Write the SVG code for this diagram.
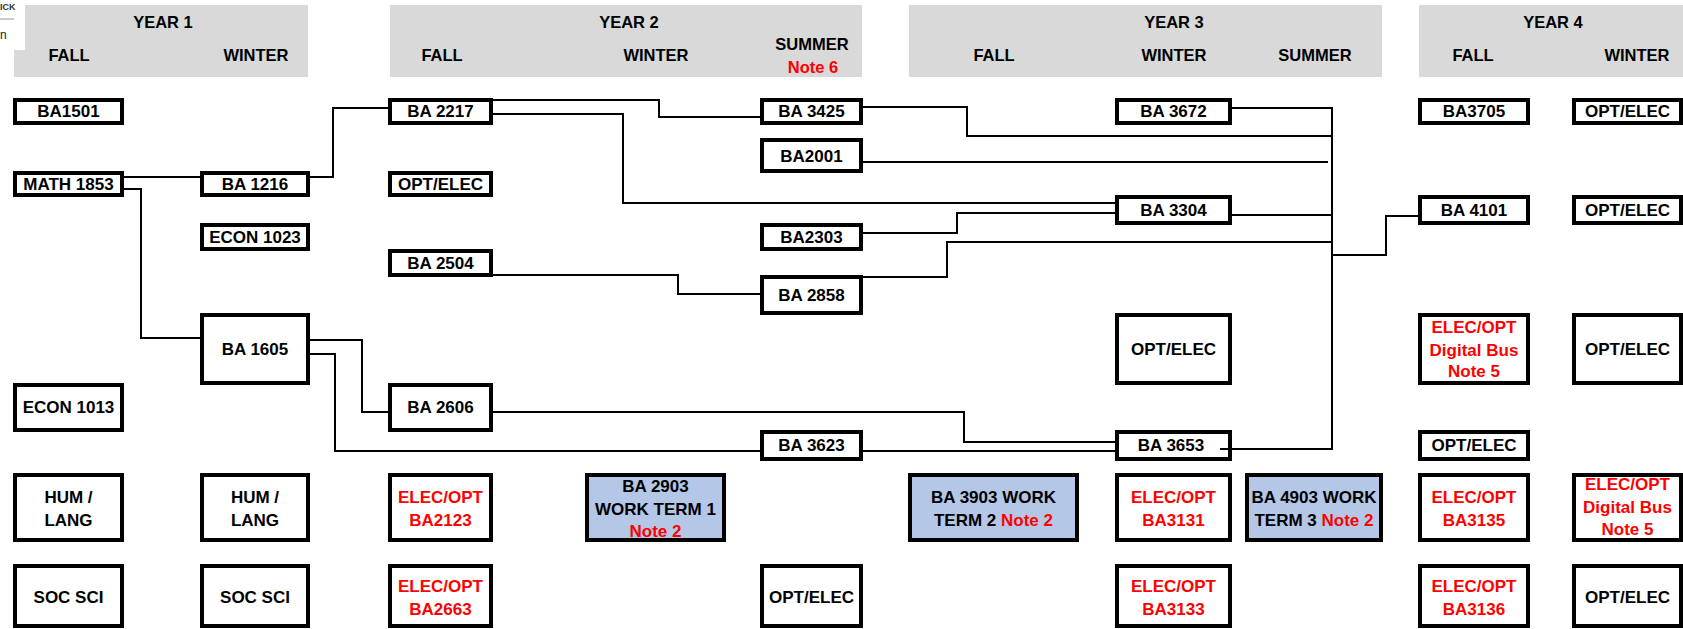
<svg xmlns="http://www.w3.org/2000/svg" width="1683" height="629" viewBox="0 0 1683 629">
<style>
.hdr{fill:#d9d9d9}
.box{fill:#fff;stroke:#000;stroke-width:4}
.wt{fill:#b4c7e7;stroke:#000;stroke-width:4}
.t{font-family:"Liberation Sans",Arial,sans-serif;font-weight:bold;font-size:17px;text-anchor:middle;fill:#000}
.h{font-size:16.5px}
.r{fill:#ff0000}
.conn path{fill:none;stroke:#000;stroke-width:2}
</style>
<rect width="1683" height="629" fill="#fff"/>
<g id="headers">
<polygon class="hdr" points="25,5 308,5 308,77 14,77 14,50 25,50"/>
<rect class="hdr" x="390" y="5" width="472" height="72"/>
<rect class="hdr" x="909" y="5" width="473" height="72"/>
<rect class="hdr" x="1419" y="5" width="264" height="72"/>
<text x="0" y="10" font-family="Liberation Sans,Arial,sans-serif" font-size="9" font-weight="bold" fill="#333">ICK</text>
<line x1="0" y1="19" x2="14" y2="19" stroke="#999" stroke-width="1"/>
<text x="0" y="39" font-family="Liberation Sans,Arial,sans-serif" font-size="12" fill="#222">n</text>
<text class="t h" x="163" y="28">YEAR 1</text>
<text class="t h" x="69" y="61">FALL</text>
<text class="t h" x="256" y="61">WINTER</text>
<text class="t h" x="629" y="28">YEAR 2</text>
<text class="t h" x="442" y="61">FALL</text>
<text class="t h" x="656" y="61">WINTER</text>
<text class="t h" x="812" y="50">SUMMER</text>
<text class="t h r" x="813" y="73">Note 6</text>
<text class="t h" x="1174" y="28">YEAR 3</text>
<text class="t h" x="994" y="61">FALL</text>
<text class="t h" x="1174" y="61">WINTER</text>
<text class="t h" x="1315" y="61">SUMMER</text>
<text class="t h" x="1553" y="28">YEAR 4</text>
<text class="t h" x="1473" y="61">FALL</text>
<text class="t h" x="1637" y="61">WINTER</text>
</g>
<g id="n-ba1501"><rect class="box" x="15" y="100" width="107" height="23"/><text class="t" x="68.5" y="117">BA1501</text></g>
<g id="n-math1853"><rect class="box" x="15" y="173" width="107" height="22"/><text class="t" x="68.5" y="190">MATH 1853</text></g>
<g id="n-econ1013"><rect class="box" x="15" y="385" width="107" height="45"/><text class="t" x="68.5" y="413">ECON 1013</text></g>
<g id="n-hum1"><rect class="box" x="15" y="475" width="107" height="65"/><text class="t" x="68.5" y="503">HUM /</text><text class="t" x="68.5" y="526">LANG</text></g>
<g id="n-soc1"><rect class="box" x="15" y="566" width="107" height="60"/><text class="t" x="68.5" y="603">SOC SCI</text></g>
<g id="n-ba1216"><rect class="box" x="202" y="173" width="106" height="22"/><text class="t" x="255" y="190">BA 1216</text></g>
<g id="n-econ1023"><rect class="box" x="202" y="225" width="106" height="24"/><text class="t" x="255" y="243">ECON 1023</text></g>
<g id="n-ba1605"><rect class="box" x="202" y="315" width="106" height="68"/><text class="t" x="255" y="355">BA 1605</text></g>
<g id="n-hum2"><rect class="box" x="202" y="475" width="106" height="65"/><text class="t" x="255" y="503">HUM /</text><text class="t" x="255" y="526">LANG</text></g>
<g id="n-soc2"><rect class="box" x="202" y="566" width="106" height="60"/><text class="t" x="255" y="603">SOC SCI</text></g>
<g id="n-ba2217"><rect class="box" x="390" y="100" width="101" height="23"/><text class="t" x="440.5" y="117">BA 2217</text></g>
<g id="n-opt2f"><rect class="box" x="390" y="173" width="101" height="22"/><text class="t" x="440.5" y="190">OPT/ELEC</text></g>
<g id="n-ba2504"><rect class="box" x="390" y="251" width="101" height="24"/><text class="t" x="440.5" y="269">BA 2504</text></g>
<g id="n-ba2606"><rect class="box" x="390" y="385" width="101" height="45"/><text class="t" x="440.5" y="413">BA 2606</text></g>
<g id="n-ba2123"><rect class="box" x="390" y="475" width="101" height="65"/><text class="t r" x="440.5" y="503">ELEC/OPT</text><text class="t r" x="440.5" y="526">BA2123</text></g>
<g id="n-ba2663"><rect class="box" x="390" y="566" width="101" height="60"/><text class="t r" x="440.5" y="592">ELEC/OPT</text><text class="t r" x="440.5" y="615">BA2663</text></g>
<g id="n-ba2903"><rect class="wt" x="587" y="475" width="137" height="65"/><text class="t" x="655.5" y="492">BA 2903</text><text class="t" x="655.5" y="515">WORK TERM 1</text><text class="t r" x="655.5" y="537">Note 2</text></g>
<g id="n-ba3425"><rect class="box" x="762" y="100" width="99" height="23"/><text class="t" x="811.5" y="117">BA 3425</text></g>
<g id="n-ba2001"><rect class="box" x="762" y="140" width="99" height="31"/><text class="t" x="811.5" y="162">BA2001</text></g>
<g id="n-ba2303"><rect class="box" x="762" y="225" width="99" height="24"/><text class="t" x="811.5" y="243">BA2303</text></g>
<g id="n-ba2858"><rect class="box" x="762" y="277" width="99" height="36"/><text class="t" x="811.5" y="301">BA 2858</text></g>
<g id="n-ba3623"><rect class="box" x="762" y="432" width="99" height="27"/><text class="t" x="811.5" y="451">BA 3623</text></g>
<g id="n-opt2s"><rect class="box" x="762" y="566" width="99" height="60"/><text class="t" x="811.5" y="603">OPT/ELEC</text></g>
<g id="n-ba3903"><rect class="wt" x="910" y="475" width="167" height="65"/><text class="t" x="993.5" y="503">BA 3903 WORK</text><text class="t" x="993.5" y="526">TERM 2 <tspan class="r">Note 2</tspan></text></g>
<g id="n-ba3672"><rect class="box" x="1117" y="100" width="113" height="23"/><text class="t" x="1173.5" y="117">BA 3672</text></g>
<g id="n-ba3304"><rect class="box" x="1117" y="197" width="113" height="26"/><text class="t" x="1173.5" y="216">BA 3304</text></g>
<g id="n-opt3w"><rect class="box" x="1117" y="315" width="113" height="68"/><text class="t" x="1173.5" y="355">OPT/ELEC</text></g>
<g id="n-ba3653"><rect class="box" x="1117" y="432" width="113" height="27"/><text class="t" x="1171" y="451">BA 3653</text></g>
<g id="n-ba3131"><rect class="box" x="1117" y="475" width="113" height="65"/><text class="t r" x="1173.5" y="503">ELEC/OPT</text><text class="t r" x="1173.5" y="526">BA3131</text></g>
<g id="n-ba3133"><rect class="box" x="1117" y="566" width="113" height="60"/><text class="t r" x="1173.5" y="592">ELEC/OPT</text><text class="t r" x="1173.5" y="615">BA3133</text></g>
<g id="n-ba4903"><rect class="wt" x="1247" y="475" width="134" height="65"/><text class="t" x="1314" y="503">BA 4903 WORK</text><text class="t" x="1314" y="526">TERM 3 <tspan class="r">Note 2</tspan></text></g>
<g id="n-ba3705"><rect class="box" x="1420" y="100" width="108" height="23"/><text class="t" x="1474" y="117">BA3705</text></g>
<g id="n-ba4101"><rect class="box" x="1420" y="197" width="108" height="26"/><text class="t" x="1474" y="216">BA 4101</text></g>
<g id="n-dig4f"><rect class="box" x="1420" y="315" width="108" height="68"/><text class="t r" x="1474" y="333">ELEC/OPT</text><text class="t r" x="1474" y="356">Digital Bus</text><text class="t r" x="1474" y="377">Note 5</text></g>
<g id="n-opt4f"><rect class="box" x="1420" y="432" width="108" height="27"/><text class="t" x="1474" y="451">OPT/ELEC</text></g>
<g id="n-ba3135"><rect class="box" x="1420" y="475" width="108" height="65"/><text class="t r" x="1474" y="503">ELEC/OPT</text><text class="t r" x="1474" y="526">BA3135</text></g>
<g id="n-ba3136"><rect class="box" x="1420" y="566" width="108" height="60"/><text class="t r" x="1474" y="592">ELEC/OPT</text><text class="t r" x="1474" y="615">BA3136</text></g>
<g id="n-opt4w1"><rect class="box" x="1574" y="100" width="107" height="23"/><text class="t" x="1627.5" y="117">OPT/ELEC</text></g>
<g id="n-opt4w2"><rect class="box" x="1574" y="197" width="107" height="26"/><text class="t" x="1627.5" y="216">OPT/ELEC</text></g>
<g id="n-opt4w3"><rect class="box" x="1574" y="315" width="107" height="68"/><text class="t" x="1627.5" y="355">OPT/ELEC</text></g>
<g id="n-dig4w"><rect class="box" x="1574" y="475" width="107" height="65"/><text class="t r" x="1627.5" y="490">ELEC/OPT</text><text class="t r" x="1627.5" y="513">Digital Bus</text><text class="t r" x="1627.5" y="535">Note 5</text></g>
<g id="n-opt4w5"><rect class="box" x="1574" y="566" width="107" height="60"/><text class="t" x="1627.5" y="603">OPT/ELEC</text></g>
<g class="conn" id="connectors">
<path d="M124,177 H200"/>
<path d="M310,177 H333 V108 H388"/>
<path d="M124,189 H141 V338 H200"/>
<path d="M309,340 H362 V412 H388"/>
<path d="M309,354 H335 V451 H760"/>
<path d="M863,451 H1115"/>
<path d="M493,412 H964 V442 H1115"/>
<path d="M493,100 H659 V117 H760"/>
<path d="M493,114 H623 V203 H1115"/>
<path d="M493,275 H678 V294 H760"/>
<path d="M863,233 H957 V213 H1115"/>
<path d="M863,277 H947 V242 H1332"/>
<path d="M863,107 H967 V136 H1332"/>
<path d="M863,162 H1328"/>
<path d="M1232,108 H1332"/>
<path d="M1232,215 H1332"/>
<path d="M1220,449 H1332"/>
<path d="M1332,107 V450"/>
<path d="M1332,255 H1386 V216 H1418"/>
</g>
</svg>
